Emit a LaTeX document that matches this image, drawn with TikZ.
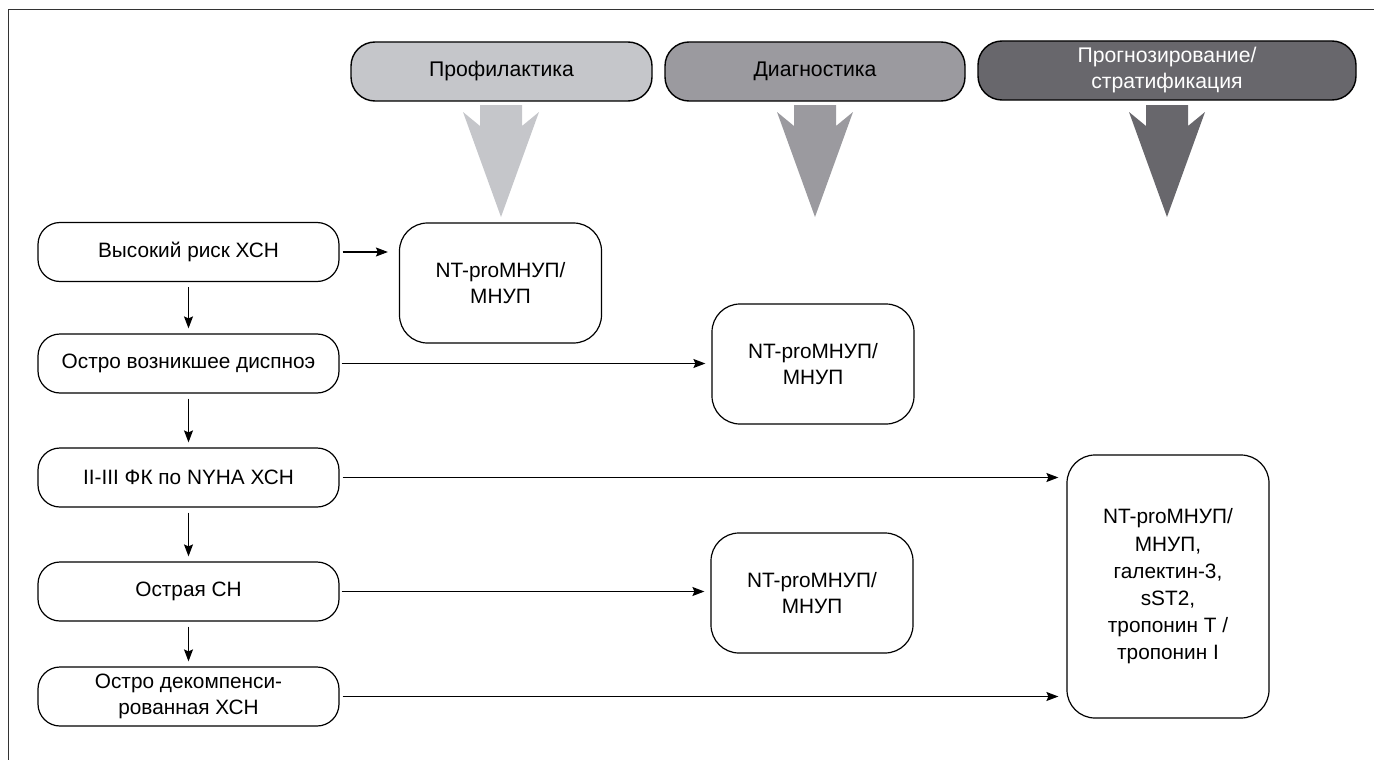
\documentclass[tikz,border=0pt]{standalone}
\usepackage{fontspec}
\setmainfont{Liberation Sans}
\usetikzlibrary{arrows.meta}
\definecolor{cA}{HTML}{C5C6CA}
\definecolor{cB}{HTML}{9B9A9F}
\definecolor{cC}{HTML}{68676C}
\begin{document}
\begin{tikzpicture}[x=1pt,y=-1pt,
 every node/.style={font=\fontsize{20.8}{25.8}\selectfont, align=center, inner sep=0pt},
 leftbox/.style={draw, line width=1.2pt, rounded corners=22pt, minimum width=301pt, minimum height=59pt},
 nubox/.style={draw, line width=1.2pt, rounded corners=28pt, minimum width=202pt, minimum height=120pt},
 headbox/.style={draw, line width=1.4pt, rounded corners=24pt, minimum height=59pt, font=\fontsize{21.2}{26}\selectfont},
 conn/.style={line width=1.1pt, -{Stealth[length=12pt,width=9pt,inset=2pt]}},
 frameline/.style={line width=1.5pt, draw=black!80}]
\useasboundingbox (0,0) rectangle (1374,760);
\draw[frameline] (8.5,760) -- (8.5,9.5) -- (1374,9.5);

% headers
\node[headbox, fill=cA, minimum width=301pt] (h1) at (501.5,71.5) {Профилактика};
\node[headbox, fill=cB, minimum width=300pt] (h2) at (815,71.5) {Диагностика};
\node[headbox, fill=cC, minimum width=378pt, text=white] (h3) at (1167,70.5) {Прогнозирование/\\стратификация};

% block arrows
\foreach \cx/\col in {501/cA, 815/cB, 1167/cC}{
  \fill[\col] (\cx-21,105) -- (\cx+21,105) -- (\cx+21,126) -- (\cx+38,112) -- (\cx,217) -- (\cx-38,112) -- (\cx-21,126) -- cycle;
}

% left column
\node[leftbox] (l1) at (188.5,252) {Высокий риск ХСН};
\node[leftbox] (l2) at (188.5,363.5) {Остро возникшее диспноэ};
\node[leftbox] (l3) at (188.5,477.5) {II-III ФК по NYHA ХСН};
\node[leftbox] (l4) at (188.5,591.5) {Острая СН};
\node[leftbox] (l5) at (188.5,696.5) {Остро декомпенси-\\рованная ХСН};

% marker boxes
\node[nubox] (n1) at (500.5,283) {NT-proМНУП/\\МНУП};
\node[nubox] (n2) at (813,364) {NT-proМНУП/\\МНУП};
\node[nubox] (n3) at (812,593) {NT-proМНУП/\\МНУП};
\node[nubox, minimum height=263pt, font=\fontsize{20.8}{27.2}\selectfont] (n4) at (1168,586.5) {NT-proМНУП/\\МНУП,\\галектин-3,\\sST2,\\тропонин T /\\тропонин I};

% vertical connectors
\draw[conn, shorten <=5pt, shorten >=5pt] (l1) -- (l2);
\draw[conn, shorten <=5pt, shorten >=5pt] (l2) -- (l3);
\draw[conn, shorten <=5pt, shorten >=5pt] (l3) -- (l4);
\draw[conn, shorten <=5pt, shorten >=5pt] (l4) -- (l5);

% horizontal connectors
\draw[conn, shorten <=3pt, shorten >=11pt] (l1.east) -- (l1.east -| n1.west);
\draw[conn, shorten <=2pt, shorten >=6pt] (l2.east) -- (l2.east -| n2.west);
\draw[conn, shorten <=3pt, shorten >=8pt] (l3.east) -- (l3.east -| n4.west);
\draw[conn, shorten <=2pt, shorten >=6pt] (l4.east) -- (l4.east -| n3.west);
\draw[conn, shorten <=3pt, shorten >=8pt] (l5.east) -- (l5.east -| n4.west);
\end{tikzpicture}
\end{document}
